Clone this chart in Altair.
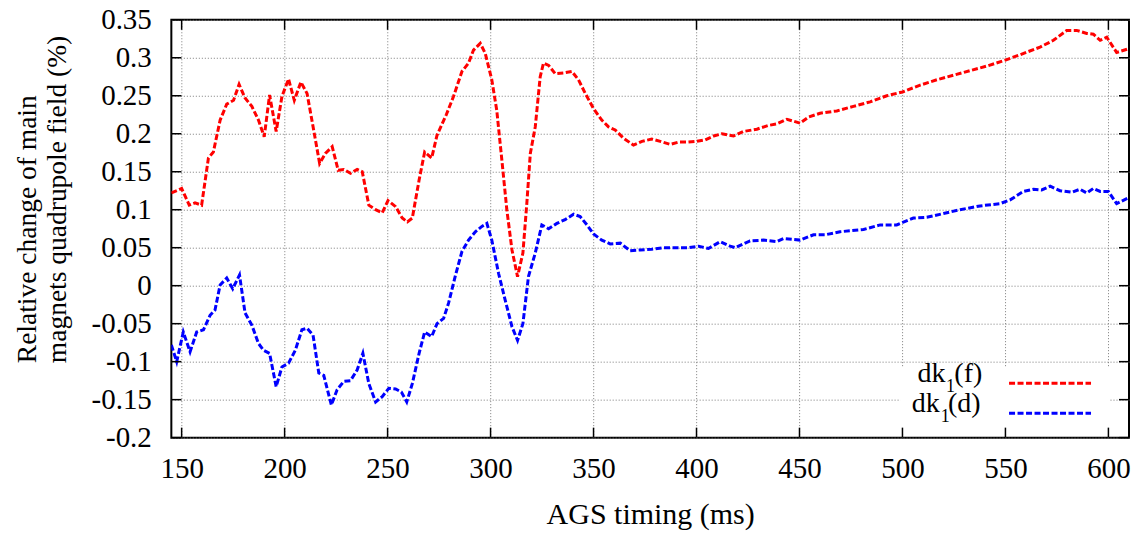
import altair as alt
import pandas as pd

# ---- data ----
f_time = [145, 150, 153.7, 156.5, 159.7, 163, 165.4, 168.7, 171.9, 175.2, 177.9, 180.8, 184.1, 187.3,
          190.1, 192.7, 195.9, 198.7, 201.9, 204.7, 207.9, 210.9, 214.1, 217, 219.8, 223.1, 226, 228.7,
          232, 235.2, 237.7, 240.9, 244.2, 247.4, 250.2, 253.9, 257.1, 259.6, 262, 265.3, 268, 271.4,
          274, 278.5, 282, 286.1, 289.3, 291.7, 295, 297.4, 300.6, 303, 305.5, 307.9, 310.4, 313.1,
          315.7, 317.6, 319.3, 321.7, 324.1, 325.7, 328.2, 331.4, 335.4, 339.5, 342.7, 346, 350, 354,
          357.3, 360.5, 364.6, 369.4, 373.5, 378.3, 382.4, 387.2, 391.3, 396.1, 400.2, 404.2, 408.3,
          412.3, 418, 422.8, 429.3, 435, 439, 443.9, 450.3, 454.4, 460, 468.1, 476.2, 484.3, 492.4,
          500, 508.6, 516.7, 524.8, 532.8, 540.9, 550, 557.1, 566.8, 573.3, 579.8, 584.6, 589.5, 592.7,
          596, 599.2, 604, 610]
f_value = [0.122, 0.128, 0.106, 0.109, 0.106, 0.168, 0.176, 0.218, 0.239, 0.244, 0.265, 0.247, 0.236, 0.218,
           0.196, 0.251, 0.203, 0.249, 0.272, 0.244, 0.268, 0.253, 0.205, 0.161, 0.174, 0.183, 0.152, 0.153,
           0.148, 0.153, 0.150, 0.106, 0.100, 0.096, 0.112, 0.104, 0.089, 0.084, 0.089, 0.139, 0.176, 0.168,
           0.198, 0.225, 0.249, 0.282, 0.293, 0.310, 0.319, 0.306, 0.271, 0.231, 0.165, 0.100, 0.047, 0.012,
           0.043, 0.108, 0.174, 0.209, 0.275, 0.293, 0.290, 0.279, 0.280, 0.282, 0.271, 0.253, 0.233, 0.218,
           0.209, 0.205, 0.194, 0.185, 0.190, 0.193, 0.190, 0.186, 0.189, 0.189, 0.190, 0.192, 0.197,
           0.200, 0.197, 0.203, 0.206, 0.211, 0.213, 0.219, 0.214, 0.222, 0.227, 0.230, 0.236, 0.242, 0.250,
           0.255, 0.264, 0.271, 0.277, 0.283, 0.289, 0.297, 0.304, 0.314, 0.323, 0.336, 0.336, 0.332, 0.331,
           0.323, 0.327, 0.307, 0.312]

d_time = [145, 147.6, 150.8, 154.1, 157.3, 160.6, 163.8, 166.2, 168.7, 171.9, 174.8, 178.1, 180.8, 184.1,
          187.3, 189.8, 192.7, 195.9, 198.7, 201.9, 205.2, 208.4, 210.9, 213.8, 216.6, 219, 222.7, 225.5,
          228.7, 232, 235.2, 238, 240.9, 244.2, 247.4, 250.6, 253.9, 256.7, 259.3, 262, 265.3, 268, 271.4,
          274, 277.2, 279.6, 282.8, 286.1, 289.3, 292.6, 295.8, 298.2, 300.6, 303.9, 307.1, 310.4, 313.1,
          315.7, 318.4, 321.7, 324.9, 328.2, 332.2, 336.2, 340.3, 343.5, 346.8, 350, 354, 358.1, 363,
          367.8, 372.7, 378.3, 384, 389.6, 396.1, 401, 405.8, 411.5, 416.3, 418.8, 426, 432.5, 439, 442.2,
          450.3, 456.8, 462.5, 469.7, 481.1, 489.2, 497.2, 505.3, 511.8, 519.9, 528, 537.7, 547.4, 552.3,
          558.7, 563.6, 567.6, 571.7, 576.5, 582.2, 586.2, 589.5, 592.7, 596, 600, 604, 610]
d_value = [-0.078, -0.100, -0.061, -0.087, -0.061, -0.058, -0.039, -0.032, 0.001, 0.010, -0.004, 0.014, -0.036, -0.052,
           -0.076, -0.085, -0.089, -0.133, -0.107, -0.102, -0.085, -0.058, -0.056, -0.065, -0.115, -0.118, -0.157, -0.137,
           -0.126, -0.125, -0.111, -0.089, -0.129, -0.153, -0.146, -0.135, -0.136, -0.140, -0.153, -0.129, -0.089, -0.061, -0.067,
           -0.050, -0.043, -0.023, 0.012, 0.045, 0.060, 0.071, 0.078, 0.082, 0.060, 0.016, -0.019, -0.054, -0.072,
           -0.050, 0.012, 0.043, 0.080, 0.075, 0.082, 0.087, 0.094, 0.091, 0.080, 0.068, 0.060, 0.055, 0.056,
           0.046, 0.047, 0.048, 0.050, 0.050, 0.050, 0.052, 0.049, 0.058, 0.052, 0.050, 0.059, 0.060, 0.058, 0.062,
           0.060, 0.067, 0.067, 0.071, 0.074, 0.080, 0.080, 0.089, 0.090, 0.095, 0.100, 0.105, 0.108, 0.113,
           0.124, 0.127, 0.126, 0.131, 0.125, 0.123, 0.127, 0.122, 0.128, 0.124, 0.124, 0.108, 0.116]

series_names = ["dk1(f)", "dk1(d)"]
legend_main = ["dk", "dk"]
legend_sub = ["1", "1"]
legend_tail = ["(f)", "(d)"]
series_colors = ["#ff0000", "#0000ff"]

x_ticks = [150, 200, 250, 300, 350, 400, 450, 500, 550, 600]
y_ticks = [-0.2, -0.15, -0.1, -0.05, 0, 0.05, 0.1, 0.15, 0.2, 0.25, 0.3, 0.35]
x_domain = [145, 610]
y_domain = [-0.2, 0.35]

x_title = "AGS timing (ms)"
y_title = ["Relative change of main", "magnets quadrupole field (%)"]

# ---- build ----
W, H = 958, 418
FONT = "Liberation Serif"

df = pd.concat([
    pd.DataFrame({"t": f_time, "v": f_value, "s": series_names[0]}),
    pd.DataFrame({"t": d_time, "v": d_value, "s": series_names[1]}),
], ignore_index=True)

xs = alt.Scale(domain=x_domain, nice=False, zero=False)
ys = alt.Scale(domain=y_domain, nice=False, zero=False)

axis_common = dict(grid=True, gridDash=[1, 2], gridColor="#7a7a7a", gridWidth=1,
                   domain=False, ticks=False, tickSize=0, tickCount=30,
                   labelOverlap=False, labelFlush=False,
                   labelFont=FONT, labelFontSize=29, labelColor="black",
                   titleFont=FONT, titleColor="black",
                   titleFontWeight="normal", labelExpr="datum.value + ''")

lines = alt.Chart(df).mark_line(strokeWidth=3, strokeDash=[6, 2.5], clip=True).encode(
    x=alt.X("t:Q", scale=xs, axis=alt.Axis(values=x_ticks, title=x_title, labelPadding=17,
                                          titleFontSize=30,
                                          titleBaseline="alphabetic", titleY=86, titleAnchor="middle",
                                          **axis_common)),
    y=alt.Y("v:Q", scale=ys, axis=alt.Axis(values=y_ticks, title=y_title, labelPadding=20,
                                          titleFontSize=27.5,
                                          titleAngle=270, titleAlign="left", titleBaseline="alphabetic",
                                          titleX=-136, titleY=343, titleLineHeight=30,
                                          **axis_common)),
    color=alt.Color("s:N", scale=alt.Scale(domain=series_names, range=series_colors), legend=None),
    detail="s:N",
)

# inward ticks on all four sides (gnuplot style)
xt = pd.DataFrame({"t": x_ticks})
yt = pd.DataFrame({"v": y_ticks})
tick_bottom = alt.Chart(xt).mark_rule(color="black", strokeWidth=1.5).encode(
    x=alt.X("t:Q", scale=xs), y=alt.value(H), y2=alt.value(H - 10))
tick_top = alt.Chart(xt).mark_rule(color="black", strokeWidth=1.5).encode(
    x=alt.X("t:Q", scale=xs), y=alt.value(0), y2=alt.value(10))
tick_left = alt.Chart(yt).mark_rule(color="black", strokeWidth=1.5).encode(
    y=alt.Y("v:Q", scale=ys), x=alt.value(0), x2=alt.value(10))
tick_right = alt.Chart(yt).mark_rule(color="black", strokeWidth=1.5).encode(
    y=alt.Y("v:Q", scale=ys), x=alt.value(W), x2=alt.value(W - 10))

one = pd.DataFrame({"k": [0]})

# legend box (white, no border) and manual entries
box = alt.Chart(one).mark_rect(color="white").encode(
    x=alt.value(729), x2=alt.value(939), y=alt.value(348), y2=alt.value(413))

# per-entry horizontal positions (plot-relative px): end of "dk", start of "1", start of tail
dk_end = [774.3, 768.6]
sub_start = [775.0, 769.6]
tail_start = [783.3, 776.9]

legend_layers = []
for i, col in enumerate(series_colors):
    base_y = 362 + 30 * i
    legend_layers.append(
        alt.Chart(one).mark_text(align="right", baseline="alphabetic", font=FONT, fontSize=28,
                                 color="black").encode(
            x=alt.value(dk_end[i]), y=alt.value(base_y), text=alt.value(legend_main[i])))
    legend_layers.append(
        alt.Chart(one).mark_text(align="left", baseline="alphabetic", font=FONT, fontSize=18,
                                 color="black").encode(
            x=alt.value(sub_start[i]), y=alt.value(base_y + 10), text=alt.value(legend_sub[i])))
    legend_layers.append(
        alt.Chart(one).mark_text(align="left", baseline="alphabetic", font=FONT, fontSize=28,
                                 color="black").encode(
            x=alt.value(tail_start[i]), y=alt.value(base_y), text=alt.value(legend_tail[i])))
    legend_layers.append(
        alt.Chart(one).mark_rule(color=col, strokeWidth=3, strokeDash=[6, 2.5]).encode(
            x=alt.value(838), x2=alt.value(920), y=alt.value(base_y + 1.5)))

chart = alt.layer(lines, box, *legend_layers, tick_bottom, tick_top, tick_left, tick_right).properties(
    width=W, height=H,
    autosize=alt.AutoSizeParams(type="none"),
    padding={"left": 163.4, "top": 11.7, "right": 8, "bottom": 100},
    background="white",
).configure_view(stroke="black", strokeWidth=2)

chart.save("out.html", embed_options={"renderer": "svg", "actions": False})
